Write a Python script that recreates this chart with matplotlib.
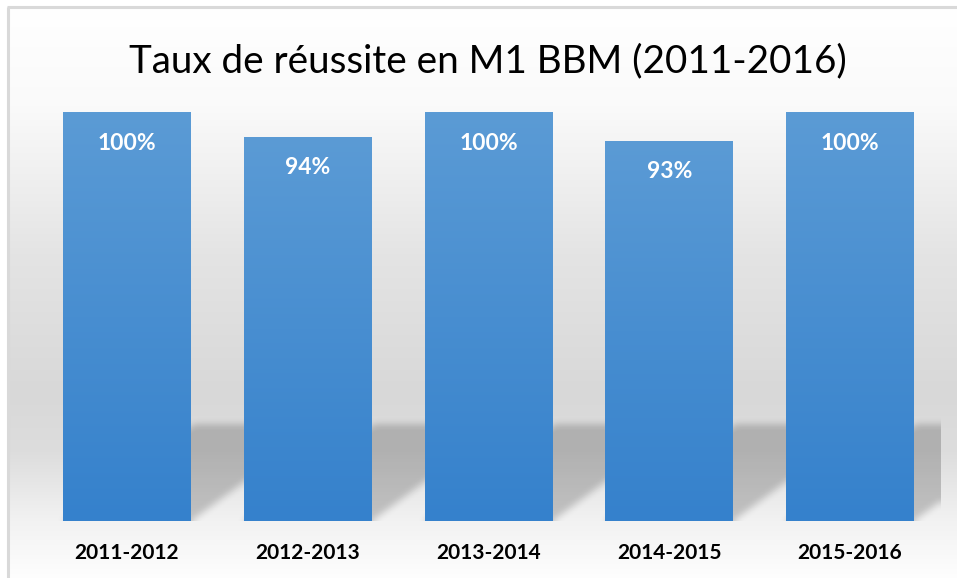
import numpy as np
import matplotlib
matplotlib.use("Agg")
import matplotlib.pyplot as plt
from matplotlib.colors import LinearSegmentedColormap

# ---- data ----
years = ["2011-2012", "2012-2013", "2013-2014", "2014-2015", "2015-2016"]
rates = [100, 94, 100, 93, 100]
title = "Taux de réussite en M1 BBM (2011-2016)"

W, H = 957, 578
fig = plt.figure(figsize=(W / 100, H / 100), dpi=100)
fig.patch.set_facecolor("white")

# ---- background gradient (whole chart area) ----
bg = fig.add_axes([0, 0, 1, 1], zorder=0)
bg.axis("off")
stops_y = np.array([0, 100, 250, 390, 450, 520, 578])
stops_g = np.array([255, 250, 228, 216, 221, 242, 254]) / 255.0
ys = np.arange(H)
g = np.interp(ys, stops_y, stops_g)
img = np.repeat(g[:, None], 4, axis=1)
rgb = np.dstack([img, img, img])
bg.imshow(rgb, extent=[8, W, H, 7], aspect="auto", interpolation="bilinear")
bg.plot([7.5, 7.5], [7, H], color="#d9d9d9", lw=2.2, solid_capstyle="butt")
bg.plot([7, W], [6.5, 6.5], color="#d9d9d9", lw=2.2, solid_capstyle="butt")
bg.set_xlim(0, W)
bg.set_ylim(H, 0)

# ---- main axes ----
left_px, right_px = 36.6, 940.4
bottom_px, top_px = 521, 112
ax = fig.add_axes([left_px / W, (H - bottom_px) / H,
                   (right_px - left_px) / W, (bottom_px - top_px) / H], zorder=1)
ax.patch.set_alpha(0)
for s in ax.spines.values():
    s.set_visible(False)

n = len(years)
x = np.arange(n)
bw = 0.708

# ---- soft perspective shadows on the floor ----
hs, dx = 23.5, 0.72
nx, ny = 904, 150
ymax_sh = 36.0
gx = np.linspace(-0.5, n - 0.5, nx)
gy = np.linspace(0, ymax_sh, ny)
GX, GY = np.meshgrid(gx, gy)
mask = np.zeros_like(GX)
for i in x:
    t = GY / hs
    inside = (GY <= hs) & (GX >= i - bw / 2 + dx * t) & (GX <= i + bw / 2 + dx * t)
    mask[inside] = 1.0

def box_blur(a, r, axis):
    k = np.ones(2 * r + 1) / (2 * r + 1)
    return np.apply_along_axis(lambda m: np.convolve(np.pad(m, r, mode="edge"), k, mode="valid"), axis, a)

for _ in range(3):
    mask = box_blur(mask, 3, 1)
    mask = box_blur(mask, 3, 0)
shadow = np.zeros((ny, nx, 4))
shadow[..., 3] = mask * 0.2
ax.imshow(shadow, extent=[-0.5, n - 0.5, 0, ymax_sh], origin="lower",
          aspect="auto", zorder=2, interpolation="bilinear")

# ---- gradient bars ----
cmap = LinearSegmentedColormap.from_list("bar", ["#3581cc", "#5b9bd5"])
grad = np.linspace(0, 1, 256)[:, None]
bars = ax.bar(x, rates, width=bw, color="#4a8fd1", linewidth=0, zorder=3)
for b in bars:
    x0, h = b.get_x(), b.get_height()
    im = ax.imshow(grad, extent=[x0, x0 + b.get_width(), 0, h], origin="lower",
                   cmap=cmap, aspect="auto", zorder=3.5, interpolation="bilinear")
    im.set_clip_path(b)

for xi, v in zip(x, rates):
    ax.annotate(f"{v}%", (xi, v), xytext=(0, -22.5), textcoords="offset points",
                ha="center", va="center", color="white", fontsize=16.5,
                fontweight="bold", family="Lato", zorder=5)

ax.set_xlim(-0.5, n - 0.5)
ax.set_ylim(0, 100)
ax.set_yticks([])
ax.set_xticks(x)
ax.set_xticklabels(years, fontsize=15, fontweight="bold", family="Lato", color="black")
ax.tick_params(axis="x", length=0, pad=16)

fig.text(488 / W, 1 - 72 / H, title, ha="center", va="baseline",
         fontsize=27.8, family="Lato", color="black")

fig.savefig("out.png", dpi=100)
